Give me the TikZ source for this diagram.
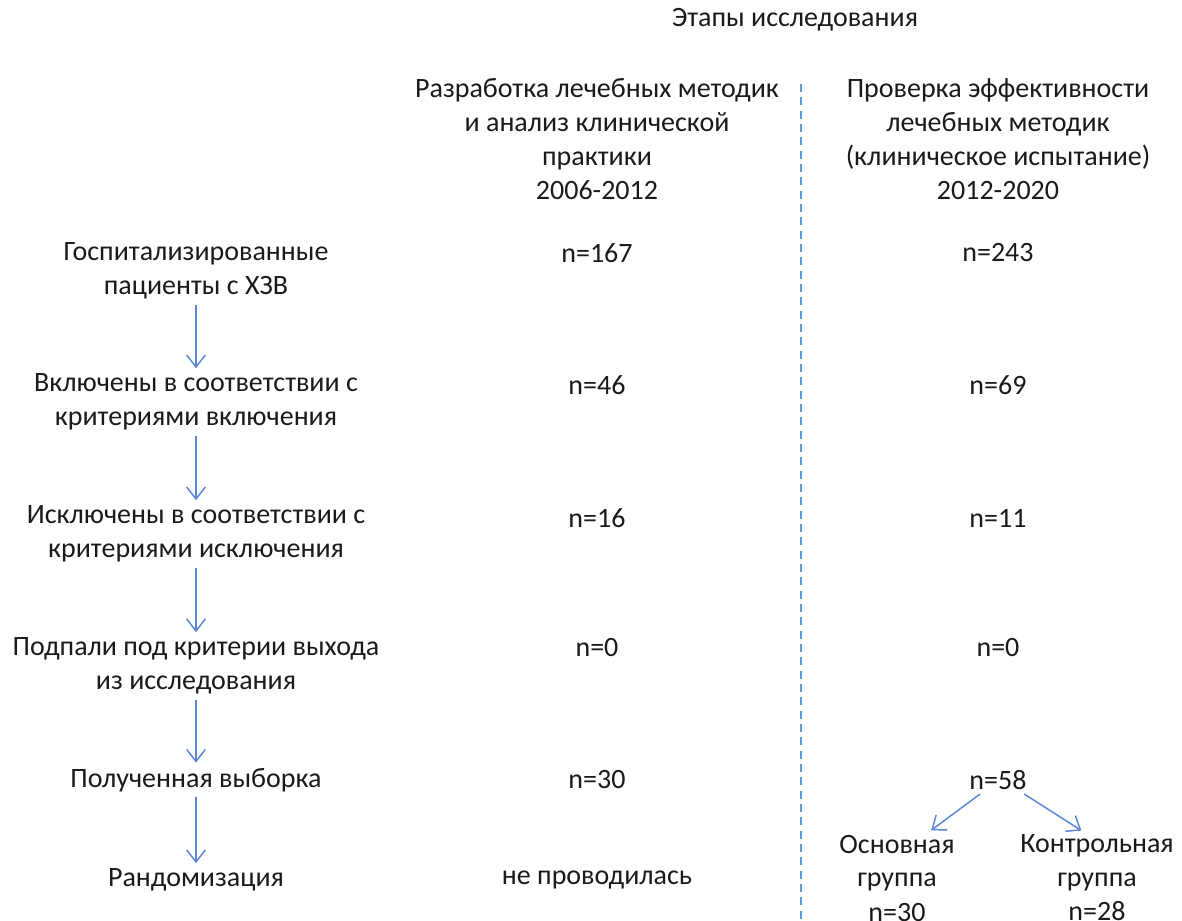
\documentclass[tikz,border=0pt]{standalone}
\usepackage{fontspec}
\setmainfont{Carlito}
\usetikzlibrary{arrows.meta}
\definecolor{txt}{HTML}{1A1A1A}
\definecolor{arrowblue}{HTML}{5B87D6}
\definecolor{dashblue}{HTML}{5B9BD5}
\begin{document}
\begin{tikzpicture}[x=0.75pt,y=-0.75pt,
  lbl/.style={align=center,text=txt,font=\fontsize{21}{25.5}\selectfont,inner sep=2pt},
  arr/.style={draw=arrowblue,line width=1.1pt,-{Straight Barb[length=9pt,width=14pt,line width=1.1pt]},shorten >=2pt,shorten <=2pt}]
\useasboundingbox (0,0) rectangle (1182,921);
\node[lbl] (title) at (795,20) {Этапы исследования};
\node[lbl] (h2) at (597,139) {Разработка лечебных методик\\и анализ клинической\\практики\\2006-2012};
\node[lbl] (h3) at (998,139) {Проверка эффективности\\лечебных методик\\(клиническое испытание)\\2012-2020};
\coordinate (dtop) at (801,84);
\coordinate (dbot) at (801,921);
\draw[dashblue,line width=1.2pt,dash pattern=on 6pt off 4pt] (dtop) -- (dbot);

\node[lbl] (r1) at (196,271) {Госпитализированные\\пациенты с ХЗВ};
\node[lbl] (r2) at (196,402) {Включены в соответствии с\\критериями включения};
\node[lbl] (r3) at (196,534) {Исключены в соответствии с\\критериями исключения};
\node[lbl] (r4) at (196,666) {Подпали под критерии выхода\\из исследования};
\node[lbl] (r5) at (196,780) {Полученная выборка};
\node[lbl] (r6) at (196,880) {Рандомизация};

\node[lbl] (a1) at (597,253) {n=167};
\node[lbl] (a2) at (597,385) {n=46};
\node[lbl] (a3) at (597,518) {n=16};
\node[lbl] (a4) at (597,648) {n=0};
\node[lbl] (a5) at (597,780) {n=30};
\node[lbl] (a6) at (597,880) {не проводилась};

\node[lbl] (b1) at (998,253) {n=243};
\node[lbl] (b2) at (998,385) {n=69};
\node[lbl] (b3) at (998,518) {n=11};
\node[lbl] (b4) at (998,648) {n=0};
\node[lbl] (b5) at (998,780) {n=58};
\node[lbl] (g1) at (897,878) {Основная\\группа\\n=30};
\node[lbl] (g2) at (1097,878) {Контрольная\\группа\\n=28};

\draw[arr] (r1.south) -- (r2.north);
\draw[arr] (r2.south) -- (r3.north);
\draw[arr] (r3.south) -- (r4.north);
\draw[arr] (r4.south) -- (r5.north);
\draw[arr] (r5.south) -- (r6.north);
\draw[arr] ([xshift=-12pt]b5.south) -- ([xshift=24pt]g1.north);
\draw[arr] ([xshift=18pt]b5.south) -- ([xshift=-10pt]g2.north);
\end{tikzpicture}
\end{document}
